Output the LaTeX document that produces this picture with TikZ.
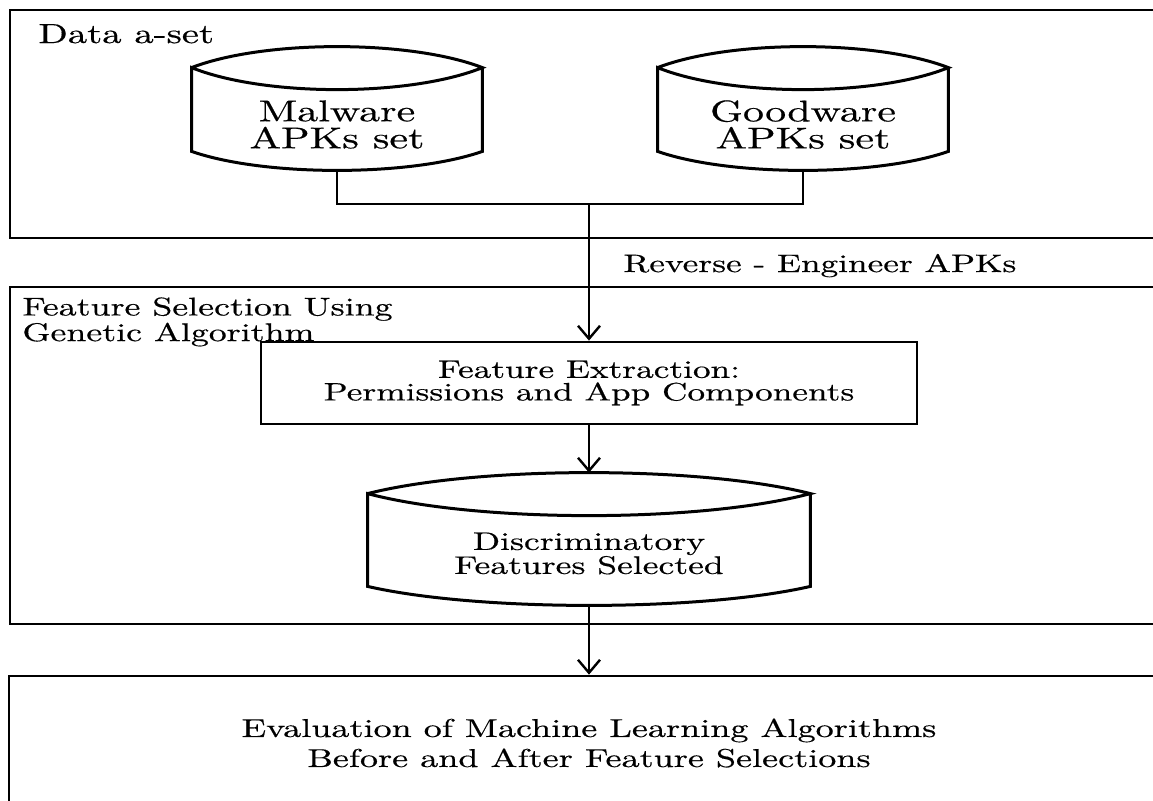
\documentclass[tikz,border=0pt]{standalone}
\usepackage{fontspec}
\setmainfont{lmroman10-regular}[Extension=.otf, FakeStretch=1.4, FakeBold=0.5]
\usetikzlibrary{calc,arrows.meta}

\tikzset{
  panel/.style={draw, line width=1.35pt, rectangle, inner sep=0pt, minimum width=580pt},
  drum/.style={rectangle, inner sep=0pt},
  drumline/.style={line width=1.5pt},
  drumtext/.style={align=center, inner sep=0pt},
  stepbox/.style={draw, line width=1.4pt, rectangle, inner sep=0pt, align=center},
  link/.style={line width=1.2pt},
  flow/.style={line width=1.2pt, -{Straight Barb[length=6.5pt,width=11pt,line width=1.2pt]}},
  caption/.style={inner sep=0pt, align=left},
}

% geometry of the drum (database) outline, in picture units (y grows downwards)
\newcommand\drumcap{21}
\newcommand\drumsag{22}
\newcommand\drumbase{19}
\newcommand\drawdrum[1]{%
  \coordinate (#1-a) at ($(#1.north west)+(0,\drumcap)$);
  \coordinate (#1-b) at ($(#1.north east)+(0,\drumcap)$);
  \coordinate (#1-c) at ($(#1.south west)+(0,-\drumbase)$);
  \coordinate (#1-d) at ($(#1.south east)+(0,-\drumbase)$);
  \draw[drumline]
    (#1-a) .. controls ($(#1-a)!0.25!(#1-b)+(0,-4/3*\drumcap)$) and ($(#1-a)!0.75!(#1-b)+(0,-4/3*\drumcap)$) .. (#1-b)
    .. controls ($(#1-a)!0.75!(#1-b)+(0,4/3*\drumsag)$) and ($(#1-a)!0.25!(#1-b)+(0,4/3*\drumsag)$) .. (#1-a)
    -- (#1-c)
    .. controls ($(#1-c)!0.25!(#1-d)+(0,4/3*\drumbase)$) and ($(#1-c)!0.75!(#1-d)+(0,4/3*\drumbase)$) .. (#1-d)
    -- (#1-b);
}

\begin{document}
\begin{tikzpicture}[x=0.5pt,y=-0.5pt]
\useasboundingbox (0,0) rectangle (1153,800);
\clip (0,0) rectangle (1153,800);

% data set panel
\node[panel, minimum height=114pt] (dataset) at (590,124) {};
\node[caption, anchor=base west, font=\fontsize{13.8}{16}\selectfont] (datatitle) at (38,43) {Data a-set};

\node[drum, minimum width=145pt, minimum height=61.5pt,
      label={[drumtext, yshift=-8pt, font=\fontsize{15}{13.5}\selectfont]center:{Malware\\APKs set}}] (mal) at (337,108.5) {};
\drawdrum{mal}
\node[drum, minimum width=145pt, minimum height=61.5pt,
      label={[drumtext, yshift=-8pt, font=\fontsize{15}{13.5}\selectfont]center:{Goodware\\APKs set}}] (good) at (803,108.5) {};
\drawdrum{good}

\coordinate (join) at (589,204);
\draw[link] (mal.south) |- (join) -| (good.south);

\node[caption, anchor=base west, font=\fontsize{12.6}{14}\selectfont] (revlabel) at (623,272) {Reverse - Engineer APKs};

% feature selection panel
\node[panel, minimum height=168.5pt] (gapanel) at (590,455.5) {};
\node[caption, anchor=north west, font=\fontsize{12.8}{10}\selectfont] (gatitle) at (22,297) {Feature Selection Using\\Genetic Algorithm};

\node[stepbox, minimum width=328pt, minimum height=41pt, font=\fontsize{12.6}{11.3}\selectfont] (fe) at (589,383)
  {Feature Extraction:\\Permissions and App Components};

\node[drum, minimum width=221pt, minimum height=66pt,
      label={[drumtext, yshift=-7.25pt, font=\fontsize{12.7}{12}\selectfont]center:{Discriminatory\\Features Selected}}] (dis) at (589,539) {};
\drawdrum{dis}

% evaluation panel
\node[panel, minimum height=67pt, align=center, font=\fontsize{12.9}{15}\selectfont] (eval) at (589,743)
  {Evaluation of Machine Learning Algorithms\\Before and After Feature Selections};

\draw[flow] (join) -- (fe.north);
\draw[flow] (fe.south) -- (dis.north);
\draw[flow] (dis.south) -- (eval.north);
\end{tikzpicture}
\end{document}
